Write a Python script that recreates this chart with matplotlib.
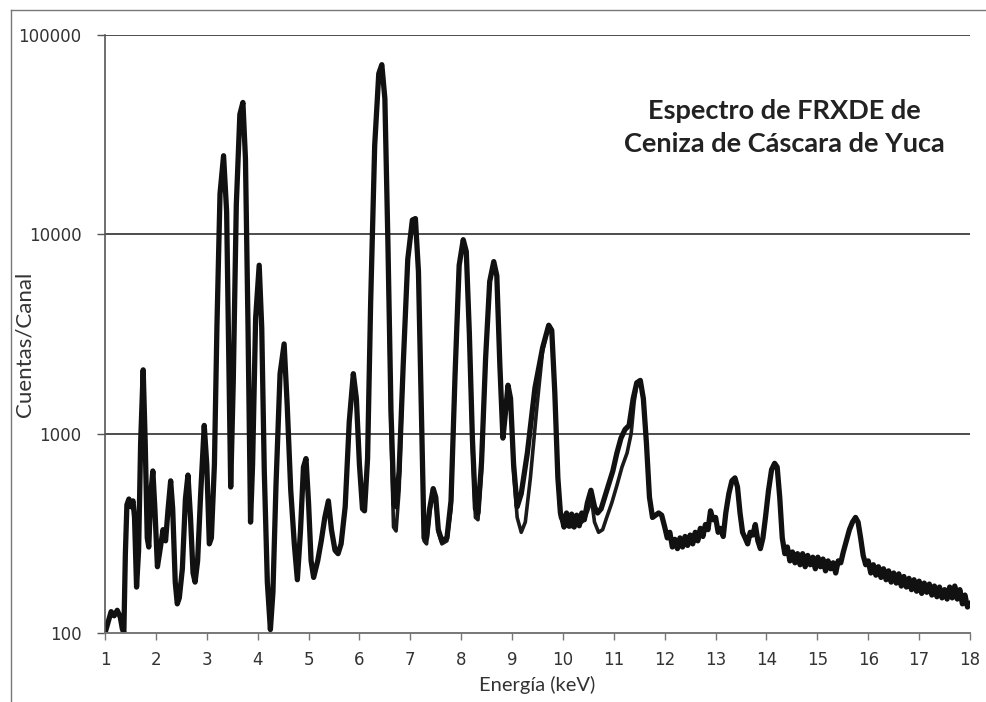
import matplotlib
matplotlib.use("Agg")
import matplotlib.pyplot as plt
from matplotlib.lines import Line2D
from matplotlib.ticker import FixedLocator, NullLocator

# measured spectrum, 1 - 12 keV (energy in keV, counts per channel)
head_e = [1.00, 1.08, 1.12, 1.18, 1.24, 1.30, 1.34, 1.37, 1.40, 1.43, 1.47, 1.51, 1.55, 1.58,
          1.62, 1.66, 1.70, 1.75, 1.79, 1.83, 1.86, 1.90, 1.94, 1.98, 2.03, 2.08, 2.14, 2.19,
          2.24, 2.29, 2.33, 2.38, 2.42, 2.46, 2.52, 2.58, 2.63, 2.68, 2.73, 2.77, 2.82, 2.88,
          2.95, 3.00, 3.05, 3.09, 3.15, 3.20, 3.26, 3.33, 3.39, 3.44, 3.47, 3.52, 3.58, 3.65,
          3.71, 3.76, 3.81, 3.86, 3.90, 3.96, 4.03, 4.08, 4.13, 4.19, 4.25, 4.30, 4.36, 4.44,
          4.52, 4.58, 4.65, 4.72, 4.78, 4.84, 4.90, 4.95, 5.00, 5.05, 5.10, 5.18, 5.25, 5.32,
          5.39, 5.45, 5.52, 5.58, 5.64, 5.72, 5.80, 5.88, 5.94, 6.00, 6.06, 6.10, 6.16, 6.22,
          6.30, 6.38, 6.44, 6.50, 6.56, 6.62, 6.68, 6.72, 6.78, 6.86, 6.95, 7.04, 7.10, 7.16,
          7.22, 7.27, 7.32, 7.38, 7.45, 7.50, 7.55, 7.62, 7.72, 7.80, 7.88, 7.96, 8.04, 8.10,
          8.16, 8.22, 8.28, 8.33, 8.40, 8.48, 8.56, 8.64, 8.70, 8.76, 8.82, 8.86, 8.92, 8.97,
          9.03, 9.10, 9.18, 9.30, 9.45, 9.60, 9.72, 9.78, 9.84, 9.90, 9.95, 9.98, 10.02, 10.07,
          10.12, 10.17, 10.22, 10.27, 10.32, 10.37, 10.42, 10.48, 10.55, 10.62, 10.68, 10.75,
          10.82, 10.90, 10.98, 11.06, 11.14, 11.22, 11.30, 11.38, 11.45, 11.52, 11.58, 11.64,
          11.70, 11.76, 11.82, 11.88, 11.94]
head_c = [100, 118, 128, 122, 130, 120, 105, 100, 250, 440, 470, 430, 460, 380,
          170, 260, 900, 2090, 900, 300, 270, 500, 650, 420, 215, 260, 330, 290,
          420, 580, 420, 180, 140, 150, 210, 470, 620, 380, 200, 180, 230, 500,
          1100, 700, 280, 300, 700, 3500, 16000, 24800, 13000, 1800, 540, 1800, 14000, 40000,
          45900, 24000, 3500, 360, 700, 3800, 7000, 3400, 650, 180, 104, 160, 550, 2000,
          2820, 1400, 520, 280, 185, 320, 680, 750, 450, 230, 190, 230, 290, 380,
          460, 330, 260, 250, 280, 430, 1150, 2000, 1500, 700, 420, 410, 750, 4500,
          28000, 64000, 71000, 48000, 9000, 1300, 440, 430, 650, 2200, 7500, 11800, 12000, 6500,
          1200, 300, 300, 420, 530, 480, 330, 290, 300, 460, 2000, 7000, 9400, 8200,
          3200, 950, 420, 400, 720, 2400, 5800, 7300, 6200, 2200, 950, 1200, 1750, 1500,
          700, 430, 500, 800, 1700, 2700, 3500, 3300, 1600, 600, 400, 380, 340, 400,
          345, 395, 340, 390, 345, 400, 370, 450, 520, 430, 400, 420,
          480, 560, 650, 800, 950, 1050, 1100, 1500, 1800, 1850, 1500, 900,
          480, 380, 390, 400, 390]

# measured spectrum, 12 - 18 keV
tail_e = [12.00, 12.05, 12.10, 12.15, 12.20, 12.25, 12.30, 12.35, 12.40, 12.45,
          12.50, 12.55, 12.60, 12.65, 12.70, 12.75, 12.80, 12.85, 12.90, 12.95,
          13.00, 13.05, 13.10, 13.15, 13.20, 13.26, 13.32, 13.38, 13.43, 13.48,
          13.53, 13.58, 13.63, 13.68, 13.73, 13.78, 13.83, 13.88, 13.93, 13.98,
          14.04, 14.10, 14.16, 14.21, 14.26, 14.31, 14.36, 14.41, 14.46, 14.51,
          14.56, 14.61, 14.66, 14.71, 14.76, 14.81, 14.86, 14.91, 14.96, 15.01,
          15.06, 15.11, 15.16, 15.21, 15.26, 15.31, 15.36, 15.41, 15.46, 15.51,
          15.57, 15.63, 15.69, 15.75, 15.80, 15.85, 15.90, 15.95, 16.00, 16.05,
          16.10, 16.15, 16.20, 16.25, 16.30, 16.35, 16.40, 16.45, 16.50, 16.55,
          16.60, 16.65, 16.70, 16.75, 16.80, 16.85, 16.90, 16.95, 17.00, 17.05,
          17.10, 17.15, 17.20, 17.25, 17.30, 17.35, 17.40, 17.45, 17.50, 17.55,
          17.60, 17.65, 17.70, 17.75, 17.80, 17.85, 17.90, 17.95, 18.00]
tail_c = [340, 300, 320, 270, 295, 265, 300, 270, 305, 275,
          310, 280, 320, 290, 335, 305, 350, 330, 410, 370,
          380, 320, 335, 305, 400, 500, 580, 600, 540, 400,
          320, 300, 280, 320, 310, 350, 290, 265, 300, 380,
          520, 660, 710, 680, 480, 300, 250, 270, 230, 255,
          225, 250, 220, 250, 215, 245, 220, 240, 210, 240,
          215, 235, 205, 230, 210, 225, 200, 230, 225, 255,
          290, 330, 360, 380, 360, 300, 245, 220, 230, 200,
          220, 195, 215, 190, 210, 185, 205, 180, 200, 178,
          198, 172, 192, 170, 188, 165, 185, 162, 182, 158,
          178, 160, 176, 155, 172, 152, 170, 150, 165, 148,
          170, 150, 172, 148, 165, 140, 155, 135, 140]

# second trace, only where it separates from the first one
fit_e = [6.50, 6.56, 6.62, 6.67, 6.72, 6.78, 6.86, 6.95, 7.04, 7.10, 7.16, 7.22, 7.27, 7.32,
         7.38, 7.45, 7.50, 7.55, 7.62, 7.72, 7.80, 7.88, 7.96, 8.04, 8.10, 8.16, 8.22, 8.28,
         8.33, 8.40, 8.48, 8.56, 8.64, 8.70, 8.76, 8.82, 8.86, 8.92, 8.97, 9.03, 9.10, 9.18,
         9.26, 9.36, 9.48, 9.60, 9.72, 9.78, 9.84, 9.90, 9.95, 10.02, 10.12, 10.22, 10.32,
         10.42, 10.50, 10.56, 10.62, 10.70, 10.78, 10.86, 10.96, 11.06, 11.16, 11.26, 11.34,
         11.40, 11.46, 11.52, 11.58, 11.64, 11.70, 11.76]
fit_c = [48000, 9000, 1000, 340, 325, 520, 2200, 7500, 11800, 12000, 6500, 1150, 290, 280,
         400, 520, 470, 320, 280, 290, 420, 1900, 7000, 9400, 8200, 3200, 850, 380,
         370, 650, 2400, 5800, 7300, 6200, 2200, 950, 1200, 1750, 1500, 650, 380, 320,
         360, 600, 1300, 2600, 3500, 3300, 1600, 600, 380, 350, 340, 345, 350,
         370, 420, 470, 360, 320, 330, 380, 450, 550, 680, 800, 1000,
         1450, 1800, 1850, 1500, 900, 480, 380]

x_ticks = list(range(1, 19))
y_ticks = [100, 1000, 10000, 100000]
y_tick_labels = ["100", "1000", "10000", "100000"]

spec_e = head_e + tail_e
spec_c = head_c + tail_c

fig = plt.figure(figsize=(9.87, 7.02), dpi=100)
ax = fig.add_axes([0.1064, 0.0983, 0.8764, 0.8518])

ax.plot(fit_e, fit_c, color="#1a1a1a", lw=2.6, solid_joinstyle="round")
ax.plot(spec_e, spec_c, color="#111111", lw=3.8, solid_joinstyle="round")

ax.set_yscale("log")
ax.set_xlim(1, 18)
ax.set_ylim(100, 100000)

ax.yaxis.set_major_locator(FixedLocator(y_ticks))
ax.yaxis.set_minor_locator(NullLocator())
ax.set_yticks(y_ticks)
ax.set_yticklabels(y_tick_labels)
ax.set_xticks(x_ticks)

for v in y_ticks[1:]:
    ax.axhline(v, color="#4d4d4d", lw=1.4, zorder=0)

for s in ["top", "right"]:
    ax.spines[s].set_visible(False)
ax.spines["left"].set_color("#555555")
ax.spines["bottom"].set_color("#777777")
ax.spines["left"].set_linewidth(1.2)
ax.spines["bottom"].set_linewidth(1.4)

ax.tick_params(axis="y", direction="out", length=6, width=1.0, color="#555555",
               pad=11, labelsize=12, labelcolor="#333333")
ax.tick_params(axis="x", direction="out", length=5, width=1.0, color="#777777",
               pad=8, labelsize=12, labelcolor="#333333")

ax.set_xlabel("Energía (keV)", fontsize=14.5, family="Lato", color="#333333", labelpad=5)
ax.set_ylabel("Cuentas/Canal", fontsize=16, family="Lato", color="#333333")
ax.yaxis.set_label_coords(-0.082, 0.482)

ax.text(0.785, 0.845, "Espectro de FRXDE de\nCeniza de Cáscara de Yuca",
        transform=ax.transAxes, ha="center", va="center", fontsize=19.5,
        family="Lato", fontweight="bold", color="#222222", linespacing=1.45)

# thin frame around the figure
fig.add_artist(Line2D([11 / 987, 11 / 987], [0, 1 - 10 / 702], transform=fig.transFigure,
                      color="#777777", lw=1.0))
fig.add_artist(Line2D([11 / 987, 1], [1 - 10 / 702, 1 - 10 / 702], transform=fig.transFigure,
                      color="#777777", lw=1.0))

fig.savefig("out.png", dpi=100)
